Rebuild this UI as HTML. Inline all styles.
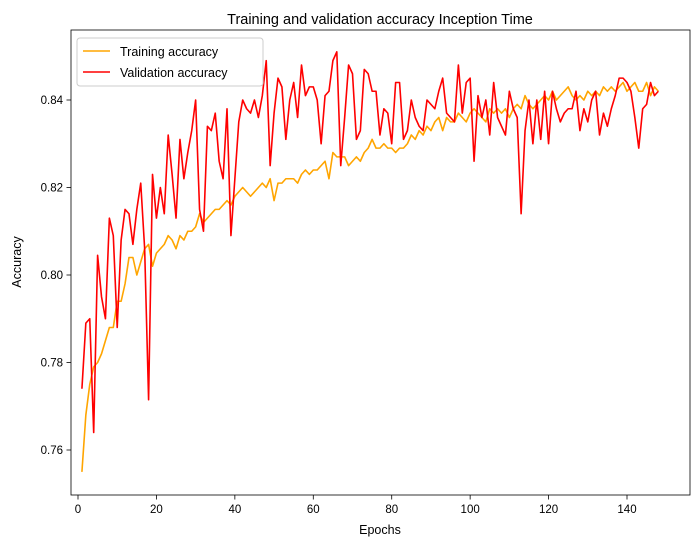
<!DOCTYPE html>
<html><head><meta charset="utf-8"><style>
body{margin:0;background:#fff;}
svg text{font-family:"Liberation Sans","DejaVu Sans",sans-serif;fill:#000;}
</style></head><body>
<svg id="chart" width="700" height="547" xmlns="http://www.w3.org/2000/svg">
<rect width="700" height="547" fill="#fff"/>
<text x="380" y="24" font-size="14.5" text-anchor="middle">Training and validation accuracy Inception Time</text>
<g id="grid"></g>
<g id="series"></g>
<rect x="71" y="30" width="619" height="465" fill="none" stroke="#000" stroke-width="0.8"/>
<text x="380" y="534" font-size="12.5" text-anchor="middle">Epochs</text>
<text transform="translate(21,262) rotate(-90)" font-size="12.5" text-anchor="middle">Accuracy</text>
<g>
<rect x="77" y="38" width="186" height="48" rx="3" fill="#fff" stroke="#ccc"/>
<line x1="83" y1="51" x2="110" y2="51" stroke="orange" stroke-width="1.6"/>
<text x="120" y="56" font-size="12.5">Training accuracy</text>
<line x1="83" y1="72" x2="110" y2="72" stroke="red" stroke-width="1.6"/>
<text x="120" y="77" font-size="12.5">Validation accuracy</text>
</g>
</svg>
<script>
const xTicks=[0,20,40,60,80,100,120,140];
const yTicks=[0.76,0.78,0.80,0.82,0.84];
const yTickLabels=["0.76","0.78","0.80","0.82","0.84"];
const trainAcc=[0.755,0.768,0.775,0.779,0.780,0.782,0.785,0.788,0.788,0.794,0.794,0.798,0.804,0.804,0.800,0.803,0.806,0.807,0.802,0.805,0.806,0.807,0.809,0.808,0.806,0.809,0.808,0.810,0.810,0.811,0.814,0.812,0.813,0.814,0.815,0.815,0.816,0.817,0.816,0.818,0.819,0.820,0.819,0.818,0.819,0.820,0.821,0.820,0.822,0.817,0.821,0.821,0.822,0.822,0.822,0.821,0.823,0.824,0.823,0.824,0.824,0.825,0.826,0.822,0.828,0.827,0.827,0.827,0.825,0.826,0.827,0.826,0.828,0.829,0.831,0.829,0.829,0.830,0.829,0.829,0.828,0.829,0.829,0.830,0.832,0.831,0.833,0.832,0.834,0.833,0.835,0.836,0.833,0.836,0.835,0.835,0.837,0.836,0.835,0.837,0.838,0.837,0.836,0.835,0.838,0.837,0.838,0.837,0.838,0.836,0.838,0.839,0.838,0.841,0.839,0.838,0.839,0.840,0.841,0.840,0.842,0.840,0.841,0.842,0.843,0.841,0.840,0.841,0.840,0.842,0.841,0.842,0.841,0.843,0.842,0.843,0.842,0.843,0.844,0.842,0.843,0.844,0.842,0.842,0.844,0.841,0.843,0.842];
const valAcc=[0.774,0.789,0.790,0.764,0.8045,0.795,0.790,0.813,0.809,0.788,0.808,0.815,0.814,0.807,0.815,0.821,0.806,0.7715,0.823,0.813,0.820,0.814,0.832,0.823,0.813,0.831,0.822,0.828,0.833,0.840,0.815,0.810,0.834,0.833,0.837,0.826,0.822,0.838,0.809,0.822,0.835,0.840,0.838,0.837,0.840,0.836,0.841,0.849,0.825,0.837,0.845,0.843,0.831,0.840,0.844,0.836,0.848,0.841,0.843,0.843,0.840,0.830,0.841,0.842,0.849,0.851,0.825,0.836,0.848,0.846,0.831,0.833,0.847,0.846,0.842,0.842,0.832,0.838,0.837,0.830,0.844,0.844,0.831,0.833,0.840,0.836,0.834,0.833,0.840,0.839,0.838,0.842,0.845,0.837,0.836,0.835,0.848,0.837,0.844,0.845,0.826,0.841,0.836,0.840,0.832,0.844,0.836,0.834,0.832,0.842,0.838,0.836,0.814,0.833,0.840,0.830,0.840,0.831,0.842,0.830,0.842,0.838,0.835,0.837,0.838,0.838,0.842,0.833,0.838,0.835,0.840,0.842,0.832,0.837,0.834,0.838,0.841,0.845,0.845,0.844,0.842,0.836,0.829,0.838,0.839,0.844,0.841,0.842];

const NS="http://www.w3.org/2000/svg";
function xs(e){return 78+(e-0)*(627-78)/140;}
function ys(v){return 100+(0.84-v)*(450-100)/0.08;}
const grid=document.getElementById('grid');
xTicks.forEach(t=>{
  const l=document.createElementNS(NS,'line');
  l.setAttribute('x1',xs(t));l.setAttribute('x2',xs(t));l.setAttribute('y1',495);l.setAttribute('y2',499.5);
  l.setAttribute('stroke','#000');l.setAttribute('stroke-width','0.8');
  
  
  grid.appendChild(l);
  const tx=document.createElementNS(NS,'text');
  tx.setAttribute('x',xs(t));tx.setAttribute('y',513);tx.setAttribute('font-size','11.5');tx.setAttribute('text-anchor','middle');
  tx.textContent=t;
  
  
  grid.appendChild(tx);
});
yTicks.forEach((t,i)=>{
  const l=document.createElementNS(NS,'line');
  l.setAttribute('x1',66.5);l.setAttribute('x2',71);l.setAttribute('y1',ys(t));l.setAttribute('y2',ys(t));
  l.setAttribute('stroke','#000');l.setAttribute('stroke-width','0.8');
  
  
  grid.appendChild(l);
  const tx=document.createElementNS(NS,'text');
  tx.setAttribute('x',63);tx.setAttribute('y',ys(t)+4);tx.setAttribute('font-size','11.5');tx.setAttribute('text-anchor','end');
  tx.textContent=yTickLabels[i];
  
  
  grid.appendChild(tx);
});
const ser=document.getElementById('series');
function line(arr,color,name){
  const p=document.createElementNS(NS,'polyline');
  p.setAttribute('points',arr.map((v,i)=>xs(i+1).toFixed(2)+','+ys(v).toFixed(2)).join(' '));
  p.setAttribute('fill','none');p.setAttribute('stroke',color);p.setAttribute('stroke-width','1.6');p.setAttribute('stroke-linejoin','round');
  
  
  ser.appendChild(p);
}
line(trainAcc,'orange','training-accuracy-line');
line(valAcc,'red','validation-accuracy-line');
</script>
</body></html>
